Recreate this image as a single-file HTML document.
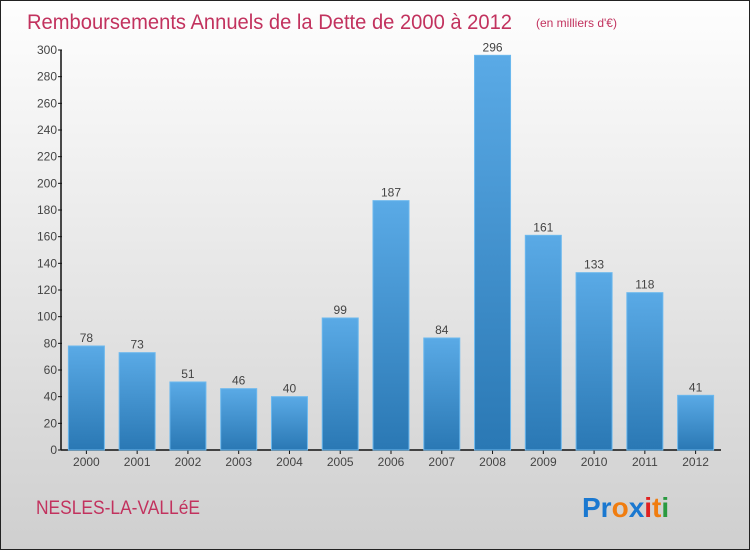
<!DOCTYPE html>
<html><head><meta charset="utf-8"><style>
body{margin:0;width:750px;height:550px;overflow:hidden}
#c{position:absolute;left:0;top:0;width:748px;height:548px;border:1px solid #222;background:linear-gradient(#fefefe,#cfcfcf);font-family:"Liberation Sans",sans-serif}
</style></head><body>
<div id="c">
<svg width="750" height="550" style="position:absolute;left:-1px;top:-1px">
<defs><linearGradient id="bg" x1="0" y1="0" x2="0" y2="1"><stop offset="0" stop-color="#5aaae6"/><stop offset="1" stop-color="#2a78b4"/></linearGradient></defs>
<text x="27" y="29" font-size="21" fill="#c2325e" font-family="Liberation Sans, sans-serif" textLength="485" lengthAdjust="spacingAndGlyphs">Remboursements Annuels de la Dette de 2000 à 2012</text>
<text x="536" y="27" font-size="12" fill="#c2325e">(en milliers d'€)</text>
<g id="axes"></g>
<g id="bars"></g>
<text x="36" y="514" font-size="19" fill="#c2325e" textLength="164" lengthAdjust="spacingAndGlyphs">NESLES-LA-VALLéE</text>
<g font-size="28" font-weight="bold" font-family="Liberation Sans, sans-serif">
<text x="582" y="517"><tspan fill="#1a78d0">Pr</tspan><tspan fill="#f07d10">o</tspan><tspan fill="#1a78d0">x</tspan><tspan fill="#e02020">i</tspan><tspan fill="#f07d10">t</tspan><tspan fill="#2a9a40">i</tspan></text>
</g>
</svg>
</div>
<script>
const categories=["2000","2001","2002","2003","2004","2005","2006","2007","2008","2009","2010","2011","2012"];
const values=[78,73,51,46,40,99,187,84,296,161,133,118,41];
const yTicks=[0,20,40,60,80,100,120,140,160,180,200,220,240,260,280,300];
const NS="http://www.w3.org/2000/svg";
const x0=61,x1=721,y0=450,yTop=50,yMax=300;
const step=(x1-x0)/categories.length;
const xc=i=>x0+(i+0.5)*step;
const y=v=>y0-(v/yMax)*(y0-yTop);
function mk(t,a,p){const e=document.createElementNS(NS,t);for(const k in a)e.setAttribute(k,a[k]);p.appendChild(e);return e;}
const ax=document.getElementById('axes'),bg=document.getElementById('bars');
const ya=mk('line',{x1:x0,y1:yTop,x2:x0,y2:y0,stroke:'#111','stroke-width':1.5},ax);


const xa=mk('line',{x1:x0,y1:y0,x2:x1,y2:y0,stroke:'#111','stroke-width':1.5},ax);


yTicks.forEach(v=>{
 mk('line',{x1:x0-3,y1:y(v),x2:x0+1,y2:y(v),stroke:'#111'},ax);
 const t=mk('text',{x:x0-4,y:y(v)+4,'font-size':12,'text-anchor':'end',fill:'#444'},ax);
 t.textContent=v;
 
 
});
categories.forEach((c,i)=>{
 const v=values[i];
 mk('line',{x1:xc(i),y1:y0,x2:xc(i),y2:y0+4,stroke:'#111'},ax);
 const r=mk('rect',{x:xc(i)-18,y:y(v),width:36,height:y0-y(v),fill:'url(#bg)',stroke:'#6bb8ee','stroke-width':1},bg);
 
 
 const l=mk('text',{x:xc(i),y:y(v)-4,'font-size':12,'text-anchor':'middle',fill:'#444'},bg);
 l.textContent=v;
 
 
 const t=mk('text',{x:xc(i),y:466,'font-size':12,'text-anchor':'middle',fill:'#444'},ax);
 t.textContent=c;
 
 
});
</script>
</body></html>
